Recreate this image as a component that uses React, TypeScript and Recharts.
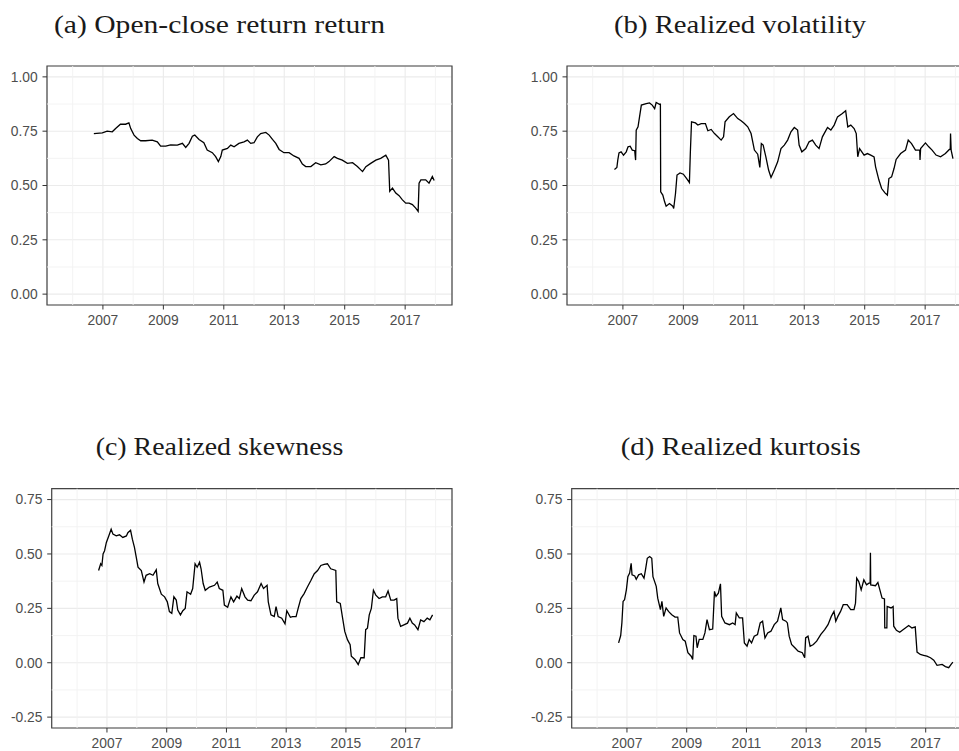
import React from "react";
import {
  LineChart,
  Line,
  XAxis,
  YAxis,
  CartesianGrid,
  ReferenceLine,
  ReferenceArea,
} from "recharts";

// ---------- data: [decimal year, value] ----------
const openCloseSeries: [number, number][] = [
  [2006.7, 0.739], [2006.98, 0.742], [2007.14, 0.75], [2007.31, 0.747], [2007.42, 0.762],
  [2007.58, 0.782], [2007.75, 0.782], [2007.86, 0.788], [2007.92, 0.762], [2008.03, 0.732],
  [2008.14, 0.716], [2008.25, 0.706], [2008.41, 0.706], [2008.63, 0.709], [2008.8, 0.701],
  [2008.91, 0.681], [2009.08, 0.681], [2009.24, 0.687], [2009.46, 0.686], [2009.63, 0.694],
  [2009.74, 0.675], [2009.85, 0.694], [2009.96, 0.727], [2010.04, 0.732], [2010.18, 0.712],
  [2010.34, 0.697], [2010.45, 0.663], [2010.62, 0.651], [2010.73, 0.633], [2010.82, 0.61],
  [2010.9, 0.633], [2010.95, 0.663], [2011.12, 0.671], [2011.23, 0.686], [2011.34, 0.678],
  [2011.5, 0.694], [2011.67, 0.701], [2011.78, 0.709], [2011.89, 0.694], [2012.0, 0.697],
  [2012.11, 0.724], [2012.22, 0.739], [2012.39, 0.744], [2012.5, 0.732], [2012.61, 0.712],
  [2012.72, 0.694], [2012.83, 0.666], [2012.99, 0.651], [2013.16, 0.651], [2013.32, 0.636],
  [2013.49, 0.625], [2013.6, 0.599], [2013.71, 0.587], [2013.88, 0.587], [2014.04, 0.605],
  [2014.21, 0.595], [2014.37, 0.599], [2014.48, 0.61], [2014.65, 0.633], [2014.76, 0.625],
  [2014.92, 0.617], [2015.09, 0.602], [2015.26, 0.605], [2015.42, 0.587], [2015.59, 0.564],
  [2015.7, 0.587], [2015.86, 0.602], [2016.03, 0.617], [2016.19, 0.625], [2016.36, 0.64],
  [2016.45, 0.617], [2016.49, 0.473], [2016.58, 0.488], [2016.69, 0.465], [2016.8, 0.453],
  [2016.91, 0.434], [2017.02, 0.419], [2017.13, 0.419], [2017.24, 0.412], [2017.35, 0.396],
  [2017.43, 0.381], [2017.46, 0.511], [2017.52, 0.526], [2017.68, 0.526], [2017.79, 0.511],
  [2017.9, 0.541], [2017.96, 0.523],
];

const volatilitySeries: [number, number][] = [
  [2006.72, 0.574], [2006.8, 0.583], [2006.83, 0.617], [2006.87, 0.65], [2006.94, 0.655],
  [2007.02, 0.64], [2007.11, 0.655], [2007.17, 0.678], [2007.24, 0.681], [2007.31, 0.663],
  [2007.39, 0.66], [2007.42, 0.617], [2007.44, 0.755], [2007.5, 0.77], [2007.55, 0.816],
  [2007.61, 0.87], [2007.77, 0.877], [2007.88, 0.88], [2007.97, 0.87], [2008.05, 0.854],
  [2008.1, 0.882], [2008.21, 0.874], [2008.24, 0.874], [2008.25, 0.471], [2008.32, 0.456],
  [2008.38, 0.425], [2008.43, 0.405], [2008.54, 0.417], [2008.65, 0.405], [2008.68, 0.394],
  [2008.74, 0.463], [2008.79, 0.548], [2008.89, 0.558], [2009.0, 0.552], [2009.11, 0.532],
  [2009.2, 0.514], [2009.23, 0.647], [2009.27, 0.793], [2009.4, 0.788], [2009.48, 0.778],
  [2009.59, 0.785], [2009.73, 0.785], [2009.81, 0.752], [2009.92, 0.758], [2010.03, 0.739],
  [2010.14, 0.724], [2010.25, 0.709], [2010.33, 0.724], [2010.38, 0.793], [2010.52, 0.816],
  [2010.66, 0.831], [2010.8, 0.808], [2010.91, 0.798], [2011.02, 0.785], [2011.13, 0.77],
  [2011.24, 0.739], [2011.35, 0.663], [2011.46, 0.644], [2011.53, 0.583], [2011.58, 0.693],
  [2011.64, 0.686], [2011.73, 0.632], [2011.82, 0.571], [2011.9, 0.537], [2012.01, 0.571],
  [2012.12, 0.609], [2012.23, 0.67], [2012.34, 0.686], [2012.45, 0.709], [2012.56, 0.747],
  [2012.67, 0.767], [2012.78, 0.755], [2012.83, 0.686], [2012.92, 0.655], [2013.05, 0.67],
  [2013.16, 0.701], [2013.27, 0.709], [2013.38, 0.686], [2013.49, 0.67], [2013.6, 0.724],
  [2013.69, 0.747], [2013.77, 0.767], [2013.88, 0.755], [2013.99, 0.778], [2014.1, 0.816],
  [2014.26, 0.831], [2014.37, 0.844], [2014.44, 0.77], [2014.54, 0.778], [2014.65, 0.762],
  [2014.72, 0.739], [2014.77, 0.632], [2014.83, 0.67], [2014.98, 0.64], [2015.09, 0.647],
  [2015.2, 0.64], [2015.31, 0.632], [2015.36, 0.586], [2015.47, 0.525], [2015.56, 0.486],
  [2015.67, 0.466], [2015.75, 0.456], [2015.8, 0.532], [2015.89, 0.54], [2015.97, 0.578],
  [2016.04, 0.62], [2016.19, 0.647], [2016.35, 0.663], [2016.44, 0.709], [2016.55, 0.693],
  [2016.68, 0.663], [2016.82, 0.663], [2016.83, 0.617], [2016.85, 0.67], [2017.01, 0.696],
  [2017.12, 0.678], [2017.23, 0.663], [2017.36, 0.64], [2017.51, 0.632], [2017.67, 0.647],
  [2017.8, 0.666], [2017.83, 0.666], [2017.84, 0.739], [2017.86, 0.663], [2017.92, 0.624],
];

const skewnessSeries: [number, number][] = [
  [2006.72, 0.424], [2006.79, 0.455], [2006.83, 0.447], [2006.87, 0.5], [2006.92, 0.515],
  [2006.98, 0.553], [2007.06, 0.583], [2007.14, 0.614], [2007.2, 0.591], [2007.31, 0.583],
  [2007.42, 0.588], [2007.53, 0.576], [2007.65, 0.583], [2007.7, 0.598], [2007.79, 0.609],
  [2007.85, 0.568], [2007.92, 0.53], [2007.98, 0.485], [2008.04, 0.439], [2008.15, 0.424],
  [2008.24, 0.371], [2008.31, 0.402], [2008.43, 0.409], [2008.54, 0.402], [2008.65, 0.427],
  [2008.7, 0.364], [2008.82, 0.315], [2008.93, 0.303], [2009.02, 0.28], [2009.09, 0.235],
  [2009.17, 0.227], [2009.24, 0.303], [2009.32, 0.288], [2009.37, 0.242], [2009.46, 0.22],
  [2009.54, 0.239], [2009.62, 0.25], [2009.68, 0.326], [2009.8, 0.315], [2009.87, 0.341],
  [2009.95, 0.455], [2010.02, 0.439], [2010.1, 0.462], [2010.15, 0.432], [2010.22, 0.364],
  [2010.29, 0.333], [2010.43, 0.348], [2010.6, 0.356], [2010.69, 0.371], [2010.76, 0.341],
  [2010.88, 0.333], [2010.93, 0.265], [2011.04, 0.255], [2011.15, 0.303], [2011.24, 0.28],
  [2011.35, 0.306], [2011.43, 0.295], [2011.51, 0.341], [2011.62, 0.303], [2011.71, 0.288],
  [2011.82, 0.285], [2011.93, 0.311], [2012.04, 0.326], [2012.16, 0.364], [2012.24, 0.341],
  [2012.36, 0.356], [2012.4, 0.28], [2012.49, 0.22], [2012.6, 0.212], [2012.66, 0.258],
  [2012.73, 0.212], [2012.85, 0.205], [2012.96, 0.179], [2013.02, 0.239], [2013.14, 0.209],
  [2013.21, 0.212], [2013.33, 0.212], [2013.4, 0.25], [2013.49, 0.295], [2013.6, 0.318],
  [2013.71, 0.348], [2013.83, 0.379], [2013.94, 0.409], [2014.05, 0.424], [2014.16, 0.447],
  [2014.27, 0.452], [2014.38, 0.455], [2014.49, 0.432], [2014.66, 0.424], [2014.69, 0.28],
  [2014.81, 0.273], [2014.88, 0.212], [2014.96, 0.144], [2015.05, 0.106], [2015.14, 0.083],
  [2015.18, 0.03], [2015.3, 0.015], [2015.41, -0.008], [2015.5, 0.023], [2015.61, 0.023],
  [2015.66, 0.152], [2015.72, 0.159], [2015.78, 0.22], [2015.85, 0.25], [2015.92, 0.333],
  [2016.0, 0.311], [2016.11, 0.295], [2016.22, 0.303], [2016.33, 0.303], [2016.41, 0.33],
  [2016.5, 0.288], [2016.61, 0.288], [2016.7, 0.295], [2016.74, 0.205], [2016.83, 0.167],
  [2016.94, 0.174], [2017.06, 0.182], [2017.14, 0.205], [2017.22, 0.182], [2017.3, 0.174],
  [2017.41, 0.152], [2017.5, 0.197], [2017.61, 0.189], [2017.72, 0.205], [2017.81, 0.197],
  [2017.9, 0.22],
];

const kurtosisSeries: [number, number][] = [
  [2006.72, 0.091], [2006.79, 0.125], [2006.83, 0.183], [2006.87, 0.282], [2006.92, 0.29],
  [2006.98, 0.335], [2007.03, 0.396], [2007.09, 0.412], [2007.14, 0.457], [2007.17, 0.404],
  [2007.26, 0.399], [2007.31, 0.384], [2007.39, 0.404], [2007.48, 0.409], [2007.57, 0.389],
  [2007.62, 0.427], [2007.68, 0.48], [2007.76, 0.488], [2007.83, 0.48], [2007.87, 0.396],
  [2007.98, 0.351], [2008.03, 0.297], [2008.12, 0.244], [2008.17, 0.282], [2008.23, 0.213],
  [2008.31, 0.252], [2008.39, 0.236], [2008.5, 0.221], [2008.61, 0.21], [2008.7, 0.21],
  [2008.76, 0.137], [2008.87, 0.107], [2008.95, 0.099], [2009.04, 0.046], [2009.15, 0.03],
  [2009.2, 0.015], [2009.24, 0.125], [2009.31, 0.122], [2009.35, 0.069], [2009.42, 0.107],
  [2009.54, 0.107], [2009.61, 0.137], [2009.68, 0.198], [2009.76, 0.152], [2009.87, 0.155],
  [2009.93, 0.328], [2009.98, 0.305], [2010.06, 0.32], [2010.13, 0.363], [2010.17, 0.213],
  [2010.28, 0.183], [2010.43, 0.175], [2010.54, 0.183], [2010.62, 0.175], [2010.66, 0.229],
  [2010.76, 0.206], [2010.87, 0.206], [2010.93, 0.091], [2011.02, 0.076], [2011.09, 0.107],
  [2011.17, 0.091], [2011.26, 0.122], [2011.37, 0.13], [2011.46, 0.183], [2011.54, 0.191],
  [2011.62, 0.114], [2011.71, 0.137], [2011.82, 0.145], [2011.93, 0.175], [2012.04, 0.191],
  [2012.15, 0.252], [2012.21, 0.198], [2012.32, 0.191], [2012.37, 0.183], [2012.43, 0.122],
  [2012.51, 0.084], [2012.62, 0.069], [2012.73, 0.053], [2012.87, 0.046], [2012.95, 0.023],
  [2012.98, 0.114], [2013.06, 0.122], [2013.13, 0.076], [2013.24, 0.084], [2013.35, 0.099],
  [2013.49, 0.13], [2013.62, 0.152], [2013.73, 0.175], [2013.84, 0.213], [2013.93, 0.236],
  [2013.99, 0.191], [2014.06, 0.213], [2014.15, 0.236], [2014.24, 0.267], [2014.37, 0.267],
  [2014.49, 0.244], [2014.6, 0.244], [2014.65, 0.274], [2014.69, 0.389], [2014.76, 0.373],
  [2014.84, 0.335], [2014.93, 0.381], [2015.02, 0.358], [2015.1, 0.366], [2015.14, 0.366],
  [2015.15, 0.506], [2015.16, 0.358], [2015.32, 0.354], [2015.4, 0.369], [2015.45, 0.343],
  [2015.54, 0.297], [2015.62, 0.293], [2015.63, 0.16], [2015.7, 0.16], [2015.71, 0.259],
  [2015.84, 0.252], [2015.91, 0.259], [2015.93, 0.168], [2016.02, 0.149], [2016.13, 0.14],
  [2016.24, 0.152], [2016.32, 0.16], [2016.43, 0.171], [2016.54, 0.16], [2016.65, 0.165],
  [2016.71, 0.049], [2016.82, 0.038], [2016.93, 0.034], [2017.04, 0.03], [2017.16, 0.023],
  [2017.27, 0.012], [2017.38, -0.012], [2017.55, -0.008], [2017.66, -0.018], [2017.77, -0.023],
  [2017.85, -0.008], [2017.91, 0.003],
];

const xDomain: [number, number] = [2005.15, 2018.55];
const xMajorTicks = [2007, 2009, 2011, 2013, 2015, 2017];
const xMinorTicks = [2006, 2008, 2010, 2012, 2014, 2016, 2018];

const yDomainTop: [number, number] = [-0.05, 1.05];
const yMajorTop = [0, 0.25, 0.5, 0.75, 1];
const yMinorTop = [0.125, 0.375, 0.625, 0.875];

const yDomainBottom: [number, number] = [-0.3, 0.8];
const yMajorBottom = [-0.25, 0, 0.25, 0.5, 0.75];
const yMinorBottom = [-0.125, 0.125, 0.375, 0.625];

const titles = [
  { text: "(a) Open-close return return", x: 54, y: 32.5, w: 331 },
  { text: "(b) Realized volatility", x: 614, y: 32.5, w: 252 },
  { text: "(c) Realized skewness", x: 95.7, y: 455, w: 247.6 },
  { text: "(d) Realized kurtosis", x: 620.7, y: 455, w: 240 },
];

const toRows = (s: [number, number][]) => s.map(([x, y]) => ({ x, y }));

const tickStyle = {
  fill: "#4D4D4D",
  fontSize: 13.8,
  fontFamily: "'Liberation Sans', Arial, sans-serif",
};

type PanelProps = {
  series: [number, number][];
  left: number;
  top: number;
  height: number;
  marginTop: number;
  yWidth: number;
  xHeight: number;
  yDomain: [number, number];
  yMajor: number[];
  yMinor: number[];
};

function Panel(p: PanelProps) {
  const data = toRows(p.series);
  return (
    <div style={{ position: "absolute", left: p.left, top: p.top }}>
      <LineChart
        width={480}
        height={p.height}
        data={data}
        margin={{ top: p.marginTop, right: 28, bottom: 0, left: 0 }}
      >
        <CartesianGrid stroke="#EBEBEB" strokeWidth={1.1} />
        {xMinorTicks.map((v) => (
          <ReferenceLine key={"xm" + v} x={v} stroke="#F2F2F2" strokeWidth={0.9} />
        ))}
        {p.yMinor.map((v) => (
          <ReferenceLine key={"ym" + v} y={v} stroke="#F2F2F2" strokeWidth={0.9} />
        ))}
        <XAxis
          type="number"
          dataKey="x"
          domain={xDomain}
          ticks={xMajorTicks}
          allowDataOverflow
          height={p.xHeight}
          axisLine={false}
          tickLine={{ stroke: "#333333", strokeWidth: 1 }}
          tickSize={4.5}
          tickMargin={5.5}
          tick={tickStyle}
          interval={0}
        />
        <YAxis
          type="number"
          domain={p.yDomain}
          ticks={p.yMajor}
          allowDataOverflow
          width={p.yWidth}
          axisLine={false}
          tickLine={{ stroke: "#333333", strokeWidth: 1 }}
          tickSize={4.5}
          tickMargin={4.8}
          tick={tickStyle}
          interval={0}
          tickFormatter={(v: number) => v.toFixed(2)}
        />
        <Line
          type="linear"
          dataKey="y"
          stroke="#000000"
          strokeWidth={1.3}
          dot={false}
          activeDot={false}
          isAnimationActive={false}
        />
        <ReferenceArea
          x1={xDomain[0]}
          x2={xDomain[1]}
          y1={p.yDomain[0]}
          y2={p.yDomain[1]}
          fill="none"
          fillOpacity={0}
          stroke="#444444"
          strokeWidth={1.2}
        />
      </LineChart>
    </div>
  );
}

export default function App() {
  return (
    <div
      style={{
        position: "absolute",
        left: 0,
        top: 0,
        width: 959,
        height: 751,
        overflow: "hidden",
        background: "#ffffff",
      }}
    >
      <Panel series={openCloseSeries} left={0} top={0} height={340} marginTop={66} yWidth={47} xHeight={35} yDomain={yDomainTop} yMajor={yMajorTop} yMinor={yMinorTop} />
      <Panel series={volatilitySeries} left={520} top={0} height={340} marginTop={66} yWidth={47} xHeight={35} yDomain={yDomainTop} yMajor={yMajorTop} yMinor={yMinorTop} />
      <Panel series={skewnessSeries} left={0} top={380} height={371} marginTop={108.7} yWidth={51.7} xHeight={23} yDomain={yDomainBottom} yMajor={yMajorBottom} yMinor={yMinorBottom} />
      <Panel series={kurtosisSeries} left={520} top={380} height={371} marginTop={108.7} yWidth={51.7} xHeight={23} yDomain={yDomainBottom} yMajor={yMajorBottom} yMinor={yMinorBottom} />
      <svg
        width={959}
        height={751}
        style={{ position: "absolute", left: 0, top: 0, pointerEvents: "none" }}
      >
        {titles.map((t) => (
          <text
            key={t.text}
            x={t.x}
            y={t.y}
            textLength={t.w}
            lengthAdjust="spacingAndGlyphs"
            fontFamily="'Liberation Serif', 'Times New Roman', serif"
            fontSize={25}
            fill="#1a1a1a"
          >
            {t.text}
          </text>
        ))}
      </svg>
    </div>
  );
}
